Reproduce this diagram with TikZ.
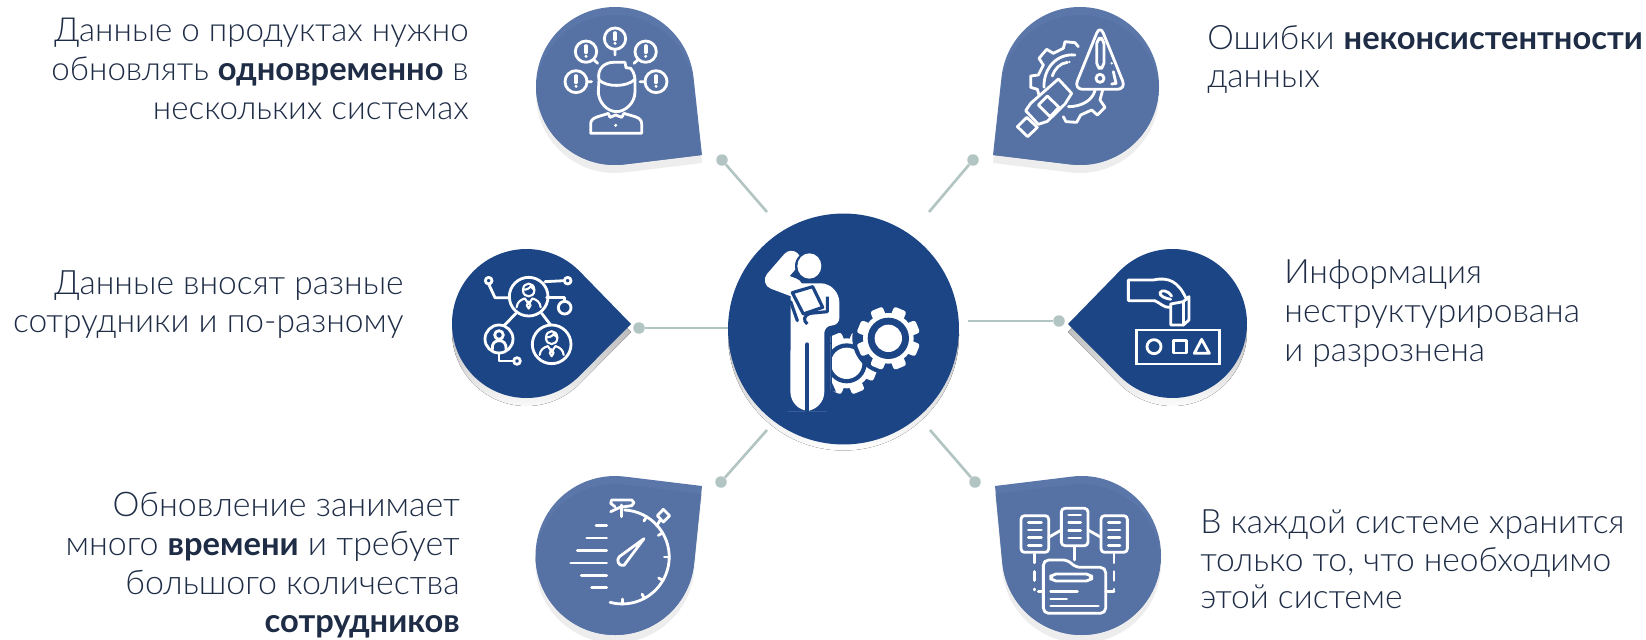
\documentclass[tikz,border=0pt]{standalone}
\usepackage{fontspec}
\setmainfont{Lato Light}[BoldFont={Lato Bold}]
\definecolor{navy}{HTML}{1C4586}
\definecolor{steelA}{HTML}{5B77A9}
\definecolor{steelB}{HTML}{5672A4}
\definecolor{shade}{HTML}{E6E6E6}
\definecolor{softshade}{HTML}{EDEDED}
\definecolor{sage}{HTML}{B2C5C3}
\definecolor{ink}{HTML}{1E2C46}
\newcommand\bb[1]{{\fontsize{18.6pt}{22pt}\selectfont\bfseries #1}}
\tikzset{
  lbl/.style={text=ink,font=\fontsize{19.1pt}{22pt}\selectfont,inner sep=0pt},
  dotnode/.style={circle,fill=sage,minimum size=0.23cm,inner sep=0pt},
  link/.style={draw=sage,line width=1.5pt},
  ico/.style={draw=white,line width=1.6pt,line cap=round,line join=round},
}
\newcommand\dropCalc[5]{%
  \pgfmathsetmacro\dA{atan2((#5)-(#2),(#4)-(#1))}%
  \pgfmathsetmacro\dB{acos((#3)/sqrt(((#4)-(#1))^2+((#5)-(#2))^2))}%
  \pgfmathsetmacro\dS{\dA+\dB}%
  \pgfmathsetmacro\dD{360-2*\dB}%
  \pgfmathsetmacro\dPx{(#1)+(#3)*cos(\dS)}%
  \pgfmathsetmacro\dPy{(#2)+(#3)*sin(\dS)}%
  \def\dropPath{(#4,#5) -- (\dPx,\dPy) arc[start angle=\dS,delta angle=\dD,radius=#3] -- cycle}}
\newcommand\plainDrop[6]{%
  \dropCalc{#1}{#2}{#3}{#4}{#5}%
  \begin{scope}[shift={(0,8)}]\fill[shade] \dropPath;\end{scope}
  \fill[#6] \dropPath;}
\newcommand\softDrop[5]{%
  \dropCalc{#1}{#2}{#3}{#4}{#5}%
  \begin{scope}[shift={(0,8)}]\fill[softshade] \dropPath;\end{scope}
  \fill[steelA] \dropPath;
  \begin{scope}
    \clip \dropPath;
    \begin{scope}[shift={(0,8)}]\fill[steelB] \dropPath;\end{scope}
  \end{scope}}
\newcommand\bang[2]{%
  \draw[ico,line width=2.1pt] (#1,#2-17) -- (#1,#2+2);
  \fill[white] (#1,#2+14) circle[radius=5];}
\newcommand\worker[3]{%
  \begin{scope}[shift={(#1,#2)},scale=#3]
    \draw[ico,line width=1.2pt] (-18,-12) .. controls (-18,-40) and (18,-40) .. (18,-12) .. controls (18,14) and (-18,14) .. cycle;
    \draw[ico,line width=1.2pt] (-18,-14) .. controls (-5,-12) and (5,-20) .. (8,-27);
    \draw[ico,line width=1.2pt] (8,-24) .. controls (10,-18) and (14,-16) .. (18,-14);
    \draw[ico,line width=1.2pt] (-38,42) .. controls (-36,25) and (-25,18) .. (-12,14) -- (0,32) -- (12,14) .. controls (25,18) and (36,25) .. (38,42);
    \draw[ico,line width=1.2pt] (0,24) -- (-6,36) -- (0,46) -- (6,36) -- cycle;
  \end{scope}}
\newcommand\gearTeeth[5]{% cx cy radius toothlen colour
  \foreach \ang in {0,45,...,315}{
    \fill[#5,rounded corners=1.4pt,rotate around={\ang+22.5:(#1,#2)}] (#1-20,#2-#3-#4) rectangle (#1+20,#2-#3+12);
  }
  \fill[#5] (#1,#2) circle[radius=#3];}
\begin{document}
\begin{tikzpicture}[x=0.02cm,y=0.02cm,yscale=-1]
\useasboundingbox (0,0) rectangle (1646,639);
\fill[white] (0,0) rectangle (1646,639);

% hub
\fill[shade] (843.5,335) circle[radius=115.5];
\node[circle,fill=navy,minimum size=4.62cm,inner sep=0pt] (hub) at (843.5,329) {};

% connectors
\node[dotnode] (d1) at (722,160) {};
\node[dotnode] (d2) at (973,160) {};
\node[dotnode] (d3) at (639,328) {};
\node[dotnode] (d4) at (1059,321) {};
\node[dotnode] (d5) at (721,482) {};
\node[dotnode] (d6) at (975,482) {};
\coordinate (e1) at (767,212);
\coordinate (e2) at (929,212);
\coordinate (e3) at (728,328);
\coordinate (e4) at (968,321);
\coordinate (e5) at (767,430);
\coordinate (e6) at (930,430);
\draw[link] (d1) -- (e1);
\draw[link] (d2) -- (e2);
\draw[link] (d3) -- (e3);
\draw[link] (d4) -- (e4);
\draw[link] (d5) -- (e5);
\draw[link] (d6) -- (e6);

% drops
\softDrop{615}{86}{79}{702}{155}
\softDrop{1080}{86}{79}{993}{155}
\plainDrop{526.5}{323.5}{74.5}{631}{324}{navy}
\plainDrop{1172.5}{323.5}{74.5}{1068}{324}{navy}
\softDrop{615}{555.5}{79.5}{702}{486}
\softDrop{1081.5}{555.5}{79.5}{995}{486}

% icon: person with alerts
\begin{scope}[shift={(500,0)},scale=1/3]
  \foreach \cx/\cy/\rr in {345/116/32,258/155/32,437/155/32,228/245/33,468/245/33}{
    \draw[ico] (\cx,\cy) circle[radius=\rr];
    \bang{\cx}{\cy}
  }
  \draw[ico] (345,148)--(345,165) (280,178)--(293,190) (415,178)--(402,190) (261,245)--(275,245) (435,245)--(420,245);
  \draw[ico] (297,240) .. controls (290,205) and (315,187) .. (340,187) -- (375,187) -- (378,203) -- (392,205) .. controls (405,220) and (405,235) .. (405,250) -- (405,275) .. controls (405,310) and (375,335) .. (350,335) .. controls (320,335) and (295,305) .. (295,275) -- cycle;
  \draw[ico] (297,240) .. controls (320,262) and (380,262) .. (405,238);
  \draw[ico] (272,400) -- (272,372) .. controls (272,350) and (300,350) .. (325,340) -- (330,352) -- (347,345) -- (365,352) -- (372,340) .. controls (400,350) and (425,350) .. (425,372) -- (425,400) -- cycle;
  \fill[white] (347,376) circle[radius=5];
\end{scope}

% icon: plug and warning
\begin{scope}[shift={(960,0)},scale=1/3]
  \draw[ico] (355,140)--(345,128)--(315,125)--(310,145)--(280,160)--(260,148)--(237,175)--(250,195)--(235,225)--(212,228)--(212,262)--(232,268)--(237,285);
  \draw[ico] (310,350)--(318,365)--(350,367)--(362,345)--(395,330)--(412,345)--(435,322)--(420,300)--(428,270);
  \draw[ico] (345,165) .. controls (290,160) and (250,205) .. (252,262);
  \draw[ico] (322,187) .. controls (300,190) and (285,205) .. (277,228);
  \fill[white] (328,186) circle[radius=4];
  \draw[ico] (325,320) .. controls (360,320) and (395,305) .. (405,272);
  \draw[ico,rounded corners=5pt] (420,75) -- (342,268) -- (498,268) -- cycle;
  \draw[ico,rounded corners=3pt] (410,115) rectangle (432,205);
  \draw[ico] (420,235) circle[radius=12];
  \fill[white] (455,190) circle[radius=4];
  \draw[ico] (460,215) -- (468,250) -- (455,252);
  \draw[ico] (295,237) -- (335,280) -- (315,312) -- (262,364) -- (235,373) -- (197,332) -- (212,310) -- cycle;
  \draw[ico] (262,288) -- (297,322) -- (270,350) -- (235,315) -- cycle;
  \draw[ico] (200,352) -- (232,382) -- (203,410) -- (172,380) -- cycle;
\end{scope}

% icon: network of people
\begin{scope}[shift={(430,230)},scale=1/3]
  \foreach \cx/\cy/\rr in {296/200/58,365/343/58,207/327/42,176/152/10,413/152/10,404/233/19,261/393/10}{
    \draw[ico] (\cx,\cy) circle[radius=\rr];
  }
  \draw[ico] (176,162)--(195,203)--(238,203);
  \draw[ico] (345,155)--(403,152);
  \draw[ico] (350,203)--(404,203)--(404,214);
  \draw[ico] (258,250)--(222,287);
  \draw[ico] (335,250)--(362,285);
  \draw[ico] (207,369)--(207,393)--(251,393);
  \worker{296}{192}{0.95}
  \worker{365}{335}{0.95}
  \draw[ico] (207,315) circle[radius=13];
  \draw[ico] (187,358) .. controls (185,340) and (195,332) .. (207,332) .. controls (220,332) and (230,340) .. (228,358);
\end{scope}

% icon: worker with gears
\begin{scope}[shift={(700,200)},scale=1/3]
  \begin{scope}
    \clip (392,300) rectangle (700,640);
    \gearTeeth{440}{490}{75}{18}{white}
    \fill[navy] (440,490) circle[radius=60];
    \fill[white] (440,490) circle[radius=47];
    \fill[navy] (370,370) rectangle (396,640);
    \fill[navy] (565,415) circle[radius=108];
    \fill[navy] (392,407) -- (405,393) -- (392,380) -- cycle;
    \fill[navy] (392,540) -- (408,575) -- (392,575) -- cycle;
  \end{scope}
  \gearTeeth{565}{415}{76}{19}{white}
  \fill[navy] (565,415) circle[radius=62];
  \fill[white] (565,415) circle[radius=41];
  \draw[white,line width=10.5pt,line cap=round,line join=round] (274,180) -- (222,240) -- (280,262);
  \fill[navy] (328,198) circle[radius=43];
  \fill[white] (328,198) ellipse[x radius=36,y radius=38];
  \fill[white,rounded corners=4pt] (272,250) -- (385,250) -- (418,285) -- (418,375) -- (373,378) [rounded corners=11pt] -- (373,633) -- (322,633) -- (271,633) [rounded corners=4pt] -- cycle;
  \draw[navy,line width=2.2pt,line cap=round] (322,433) -- (322,640);
  \draw[navy,line width=1.8pt,line join=round,fill=white] (277,278) -- (338,260) -- (368,322) -- (310,342) -- cycle;
  \draw[navy,line width=1.8pt,line cap=round] (272,305) -- (292,362);
  \draw[navy,line width=1.8pt,line join=round] (382,290) -- (382,335) -- (330,340) .. controls (312,345) and (308,362) .. (322,372);
\end{scope}

% icon: hand with shapes
\begin{scope}[shift={(1040,230)},scale=1/3]
  \draw[ico] (344,212) -- (265,212) -- (265,150) -- (340,150) .. controls (385,140) and (415,155) .. (437,203);
  \draw[ico] (344,212) .. controls (360,218) and (372,235) .. (392,232);
  \draw[ico] (395,198) .. controls (385,182) and (365,178) .. (360,188) .. controls (358,198) and (375,205) .. (392,208);
  \draw[ico] (392,222) -- (392,285) -- (430,285) -- (447,270) -- (447,200) -- (430,215) -- cycle;
  \draw[ico] (430,215) -- (430,285);
  \draw[ico,line cap=butt,line join=miter] (290,300) rectangle (538,402);
  \draw[ico] (342,350) circle[radius=21];
  \draw[ico] (400,331) rectangle (440,369);
  \draw[ico] (463,370) -- (508,370) -- (485,328) -- cycle;
\end{scope}

% icon: stopwatch
\begin{scope}[shift={(520,450)},scale=1/3]
  \foreach \xa/\yy in {228/227,200/264,172/301,152/339,184/376,215/413}{
    \draw[ico] (\xa,\yy) -- (260,\yy);
  }
  \draw[ico] (314,180) arc[start angle=-87,delta angle=192,radius=141];
  \foreach \ang in {-59,-31,0,30,62,90}{
    \draw[ico] ({307+141*cos(\ang)},{321+141*sin(\ang)}) -- ({307+126*cos(\ang)},{321+126*sin(\ang)});
  }
  \draw[ico] (305,200) -- (305,165);
  \draw[ico] (285,170) -- (272,160) -- (275,150) -- (335,150) -- (342,158) -- (335,167) -- (300,172) -- (272,185);
  \draw[ico] (410,228) -- (421,209);
  \draw[ico] (430,178) -- (449,197) -- (430,216) -- (412,197) -- cycle;
  \draw[ico] (372,266) -- (312,346) .. controls (295,350) and (288,330) .. (298,320) -- cycle;
\end{scope}

% icon: files and folder
\begin{scope}[shift={(960,450)},scale=1/3]
  \foreach \xa/\xb/\ya/\yb in {183/266/197/307,304/384/175/287,423/502/197/307}{
    \draw[ico,rounded corners=2pt] (\xa,\ya) rectangle (\xb,\yb);
    \foreach \ff in {0,1,2,3}{
      \draw[ico] (\xa+22,\ya+20+23*\ff) -- (\xb-22,\ya+20+23*\ff);
    }
  }
  \draw[ico] (266,262) -- (304,240);
  \draw[ico] (384,240) -- (423,262);
  \draw[ico,dash pattern=on 8pt off 7pt,line cap=round] (343,292) -- (343,330);
  \draw[ico,dash pattern=on 5pt off 5pt] (224,312) -- (224,420);
  \draw[ico,dash pattern=on 5pt off 5pt] (462,312) -- (462,420);
  \draw[ico,rounded corners=3pt] (250,490) -- (250,330) -- (325,330) -- (345,352) -- (437,352) -- (437,490) -- cycle;
  \draw[ico,rounded corners=3pt] (272,372) rectangle (395,393);
  \draw[ico] (272,425) -- (352,425) (272,447) -- (320,447) (272,468) -- (415,468);
  \draw[ico] (235,425) -- (250,425) (437,425) -- (462,425);
\end{scope}

% labels
\node[lbl,font=\fontsize{18.85pt}{22.4pt}\selectfont,align=right,anchor=east] (t1) at (469,69) {Данные о продуктах нужно\\обновлять \bb{одновременно} в\\нескольких системах};
\node[lbl,align=right,anchor=east] (t2) at (404,304.5) {Данные вносят разные\\сотрудники и по-разному};
\node[lbl,font=\fontsize{19.35pt}{22pt}\selectfont,align=right,anchor=east] (t3) at (460,565.5) {Обновление занимает\\много \bb{времени} и требует\\большого количества\\\bb{сотрудников}};
\node[lbl,align=left,anchor=west] (t4) at (1207,59.5) {Ошибки \bb{неконсистентности}\\данных};
\node[lbl,align=left,anchor=west] (t5) at (1284,313.5) {Информация\\неструктурирована\\и разрознена};
\node[lbl,font=\fontsize{19.1pt}{21.4pt}\selectfont,align=left,anchor=west] (t6) at (1200,559.5) {В каждой системе хранится\\только то, что необходимо\\этой системе};
\end{tikzpicture}
\end{document}
